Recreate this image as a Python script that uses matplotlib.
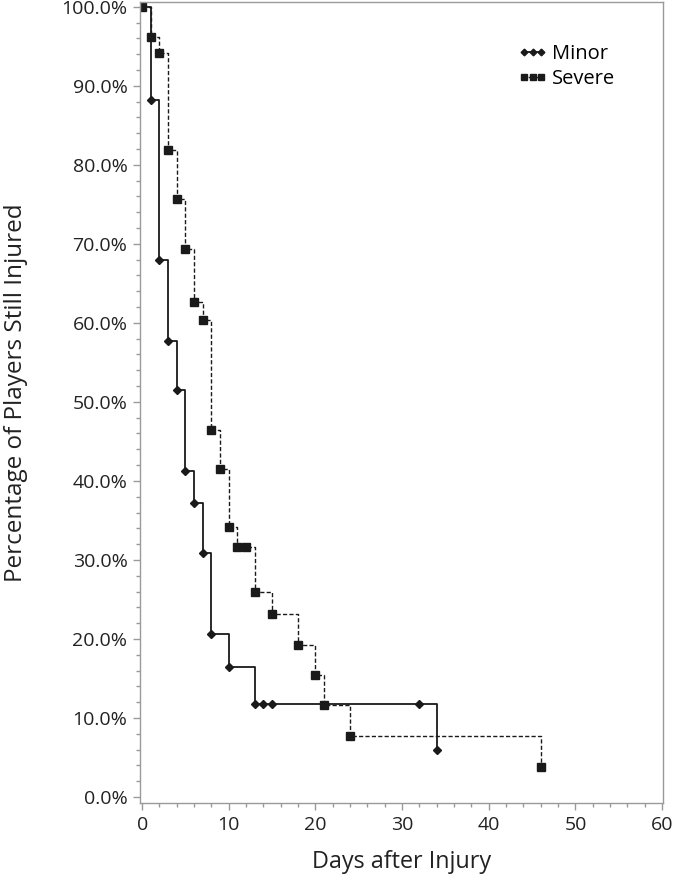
import matplotlib
matplotlib.use("Agg")
import matplotlib.pyplot as plt
from matplotlib.ticker import MultipleLocator, FuncFormatter
from matplotlib.lines import Line2D

plt.rcParams['font.family'] = ['Open Sans', 'DejaVu Sans']

# Data (Kaplan-Meier style survival, % still injured)
minor_days = [0, 1, 2, 3, 4, 5, 6, 7, 8, 10, 13, 14, 15, 32, 34]
minor_pct = [100.0, 88.2, 68.0, 57.7, 51.5, 41.2, 37.2, 30.9, 20.6, 16.5, 11.8, 11.8, 11.8, 11.8, 5.9]

severe_days = [0, 1, 2, 3, 4, 5, 6, 7, 8, 9, 10, 11, 12, 13, 15, 18, 20, 21, 24, 46]
severe_pct = [100.0, 96.2, 94.2, 81.9, 75.7, 69.4, 62.7, 60.4, 46.4, 41.5, 34.2, 31.7, 31.7,
              26.0, 23.1, 19.3, 15.4, 11.6, 7.7, 3.8]

series_labels = ['Minor', 'Severe']

fig = plt.figure(figsize=(6.74, 8.74), dpi=100)
ax = fig.add_axes([0.2077, 0.0812, 0.7760, 0.9165])

col = '#1a1a1a'
ax.step(minor_days, minor_pct, where='post', color=col, lw=1.3, ls='-')
ax.plot(minor_days, minor_pct, ls='none', marker='D', ms=4.2, color=col)
ax.step(severe_days, severe_pct, where='post', color=col, lw=1.0, ls=(0, (3, 1.6)))
ax.plot(severe_days, severe_pct, ls='none', marker='s', ms=6.0, color=col)

ax.set_xlim(-0.25, 60.1)
ax.set_ylim(-0.76, 100.6)
ax.xaxis.set_major_locator(MultipleLocator(10))
ax.xaxis.set_minor_locator(MultipleLocator(2))
ax.yaxis.set_major_locator(MultipleLocator(10))
ax.yaxis.set_minor_locator(MultipleLocator(2))
ax.yaxis.set_major_formatter(FuncFormatter(lambda v, p: f"{v:.1f}%"))

spine_col = '#9a9a9a'
for s in ax.spines.values():
    s.set_color(spine_col)
    s.set_linewidth(1.0)
ax.tick_params(which='major', length=5, width=1, color=spine_col, labelsize=14, labelcolor='#222222', pad=4)
ax.tick_params(which='minor', length=3, width=1, color=spine_col)

ax.set_xlabel('Days after Injury', fontsize=16.8, color='#222222', labelpad=12)
ax.set_ylabel('Percentage of Players Still Injured', fontsize=17.5, color='#222222')
ax.yaxis.set_label_coords(-0.214, 0.512)

handles = [
    Line2D([], [], color=col, lw=1.3, ls='-', marker='D', ms=3.4),
    Line2D([], [], color=col, lw=1.0, ls=(0, (2, 1)), marker='s', ms=4.4),
]
ax.legend(handles, series_labels, loc='upper left', bbox_to_anchor=(0.7228, 0.9476),
          frameon=False, fontsize=14.5, numpoints=3, handlelength=1.45, handletextpad=0.25,
          labelspacing=0.24, borderaxespad=0, borderpad=0)

fig.savefig('out.png', dpi=100)
